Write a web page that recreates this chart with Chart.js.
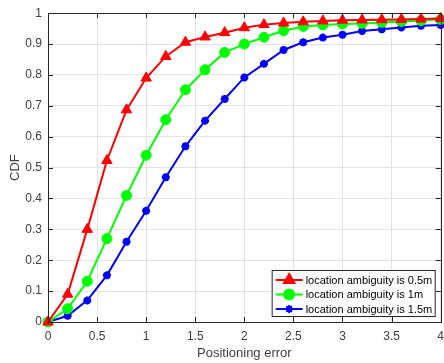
<!DOCTYPE html>
<html>
<head>
<meta charset="utf-8">
<script src="https://cdn.jsdelivr.net/npm/chart.js@4"></script>
<style>
  html, body { margin: 0; padding: 0; background: #fff; overflow: hidden; }
  #wrap { width: 444px; height: 363px; overflow: hidden; }
</style>
</head>
<body>
<div id="wrap"><canvas id="cdfChart" width="451" height="363"></canvas></div>
<script>
// positioning error samples
const errors = [0, 0.2, 0.4, 0.6, 0.8, 1.0, 1.2, 1.4, 1.6, 1.8, 2.0, 2.2, 2.4, 2.6, 2.8, 3.0, 3.2, 3.4, 3.6, 3.8, 4.0];

const cdf05 = [0, 0.09, 0.30, 0.523, 0.687, 0.79, 0.86, 0.906, 0.923, 0.937, 0.953, 0.963, 0.968, 0.972, 0.975, 0.977, 0.978, 0.979, 0.98, 0.981, 0.983];
const cdf10 = [0, 0.043, 0.132, 0.27, 0.41, 0.54, 0.655, 0.752, 0.817, 0.873, 0.90, 0.922, 0.943, 0.957, 0.962, 0.965, 0.967, 0.97, 0.973, 0.976, 0.98];
const cdf15 = [0, 0.02, 0.07, 0.151, 0.26, 0.36, 0.469, 0.569, 0.652, 0.722, 0.792, 0.836, 0.881, 0.906, 0.921, 0.93, 0.942, 0.948, 0.954, 0.959, 0.962];

const seriesNames = ['location ambiguity is 0.5m', 'location ambiguity is 1m', 'location ambiguity is 1.5m'];

const xTicks = [0, 0.5, 1, 1.5, 2, 2.5, 3, 3.5, 4];
const yTicks = [0, 0.1, 0.2, 0.3, 0.4, 0.5, 0.6, 0.7, 0.8, 0.9, 1];

const axisColor = '#262626';
const textColor = '#404040';
const fontFamily = '"Liberation Sans", Arial, sans-serif';

function toPoints(ys) {
  return errors.map((x, i) => ({ x: x, y: ys[i] }));
}

// box around the plot with inward ticks (matlab style)
const boxPlugin = {
  id: 'box',
  afterDatasetsDraw(chart) {
    const { ctx, chartArea: a, scales } = chart;
    ctx.save();
    ctx.strokeStyle = axisColor;
    ctx.lineWidth = 1;
    ctx.beginPath();
    xTicks.forEach(v => {
      const px = Math.round(scales.x.getPixelForValue(v)) + 0.5;
      ctx.moveTo(px, a.bottom); ctx.lineTo(px, a.bottom - 5);
      ctx.moveTo(px, a.top); ctx.lineTo(px, a.top + 5);
    });
    yTicks.forEach(v => {
      const py = Math.round(scales.y.getPixelForValue(v)) + 0.5;
      ctx.moveTo(a.left, py); ctx.lineTo(a.left + 5, py);
      ctx.moveTo(a.right, py); ctx.lineTo(a.right - 5, py);
    });
    ctx.stroke();
    ctx.strokeRect(Math.round(a.left) + 0.5, Math.round(a.top) + 0.5,
      Math.round(a.right - a.left), Math.round(a.bottom - a.top));
    ctx.restore();
  }
};

// legend box inside the plot, bottom right
const legendPlugin = {
  id: 'insideLegend',
  afterDraw(chart) {
    const { ctx, chartArea: a } = chart;
    const w = 163, h = 46;
    const x0 = a.right - 169, y0 = a.bottom - 52;
    ctx.save();
    ctx.fillStyle = '#fff';
    ctx.fillRect(x0, y0, w, h);
    ctx.strokeStyle = '#262626';
    ctx.lineWidth = 1;
    ctx.strokeRect(x0 + 0.5, y0 + 0.5, w, h);
    ctx.font = '11px ' + fontFamily;
    ctx.textBaseline = 'middle';
    chart.data.datasets.forEach((ds, i) => {
      const cy = y0 + 10 + i * 14.5;
      ctx.strokeStyle = ds.borderColor;
      ctx.lineWidth = 2;
      ctx.beginPath();
      ctx.moveTo(x0 + 4, cy); ctx.lineTo(x0 + 31, cy);
      ctx.stroke();
      ctx.fillStyle = ds.borderColor;
      ctx.strokeStyle = ds.borderColor;
      Chart.helpers.drawPoint(ctx, {
        pointStyle: ds.pointStyle,
        radius: ds.pointRadius,
        borderWidth: ds.pointBorderWidth,
        rotation: 0
      }, x0 + 17.5, cy);
      ctx.fillStyle = '#000';
      ctx.fillText(seriesNames[i], x0 + 34, cy + 0.5);
    });
    ctx.restore();
  }
};

const ctx = document.getElementById('cdfChart').getContext('2d');
new Chart(ctx, {
  type: 'line',
  data: {
    datasets: [
      {
        label: seriesNames[0],
        data: toPoints(cdf05),
        borderColor: '#ff0000',
        backgroundColor: '#ff0000',
        pointStyle: 'triangle',
        pointRadius: 6,
        pointBorderWidth: 1,
        borderWidth: 2
      },
      {
        label: seriesNames[1],
        data: toPoints(cdf10),
        borderColor: '#00ff00',
        backgroundColor: '#00ff00',
        pointStyle: 'circle',
        pointRadius: 5,
        pointBorderWidth: 1,
        borderWidth: 2
      },
      {
        label: seriesNames[2],
        data: toPoints(cdf15),
        borderColor: '#0000ff',
        backgroundColor: '#0000ff',
        pointStyle: 'star',
        pointRadius: 4,
        pointBorderWidth: 2.5,
        borderWidth: 2
      }
    ]
  },
  options: {
    responsive: false,
    animation: false,
    clip: false,
    layout: { padding: { left: 0, right: 0, top: 12, bottom: 0 } },
    plugins: {
      legend: { display: false },
      tooltip: { enabled: false }
    },
    scales: {
      x: {
        type: 'linear',
        min: 0,
        max: 4,
        afterFit: s => { s.height = 41; },
        afterBuildTicks: s => { s.ticks = xTicks.map(v => ({ value: v })); },
        ticks: {
          color: textColor,
          font: { family: fontFamily, size: 12 },
          padding: 7,
          maxRotation: 0,
          callback: v => String(v)
        },
        grid: { color: '#e3e3e3', drawTicks: false },
        border: { display: false },
        title: {
          display: true,
          text: 'Positioning error',
          color: textColor,
          font: { family: fontFamily, size: 13 },
          padding: { top: 0, bottom: 2 }
        }
      },
      y: {
        min: 0,
        max: 1,
        afterFit: s => { s.width = 48; },
        afterBuildTicks: s => { s.ticks = yTicks.map(v => ({ value: v })); },
        ticks: {
          color: textColor,
          font: { family: fontFamily, size: 12 },
          padding: 6,
          callback: v => String(v)
        },
        grid: { color: '#e3e3e3', drawTicks: false },
        border: { display: false },
        title: {
          display: true,
          text: 'CDF',
          color: textColor,
          font: { family: fontFamily, size: 13 },
          padding: { top: 8, bottom: 0 }
        }
      }
    }
  },
  plugins: [boxPlugin, legendPlugin]
});
</script>
</body>
</html>
